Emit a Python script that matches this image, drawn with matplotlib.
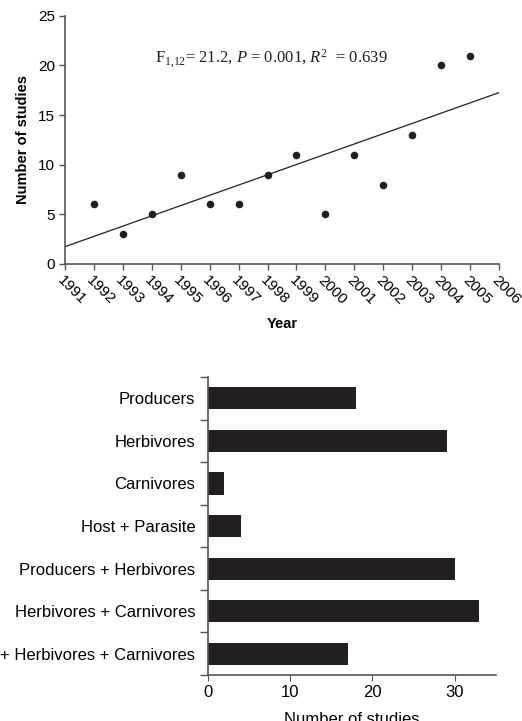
import numpy as np
import matplotlib
matplotlib.use("Agg")
import matplotlib.pyplot as plt

plt.rcParams['font.family'] = ['Liberation Sans', 'DejaVu Sans']
plt.rcParams['mathtext.fontset'] = 'custom'
plt.rcParams['mathtext.rm'] = 'Liberation Serif'
plt.rcParams['mathtext.it'] = 'Liberation Serif:italic'

# ---- data ----
years = [1992, 1993, 1994, 1995, 1996, 1997, 1998, 1999, 2000, 2001, 2002, 2003, 2004, 2005]
studies = [6, 3, 5, 9, 6, 6, 9, 11, 5, 11, 8, 13, 20, 21]
year_ticks = list(range(1991, 2007))
y_ticks = [0, 5, 10, 15, 20, 25]

categories = ["Producers", "Herbivores", "Carnivores", "Host + Parasite",
              "Producers + Herbivores", "Herbivores + Carnivores",
              "Producers + Herbivores + Carnivores"]
cat_counts = [18, 29, 2, 4, 30, 33, 17]
bar_ticks = [0, 10, 20, 30]

ink = '#231f20'
spine_c = '#555555'

fig = plt.figure(figsize=(5.22, 7.21), dpi=100)

# ---- top scatter ----
ax1 = fig.add_axes([0.1245, 0.634, 0.8315, 0.344])
ax1.scatter(years, studies, s=30, color=ink, zorder=3, linewidths=0)
slope, inter = np.polyfit(years, studies, 1)
xl = np.array([1991, 2006])
ax1.plot(xl, slope * xl + inter, color=ink, lw=0.9)
ax1.set_xlim(1991, 2006)
ax1.set_ylim(0, 25)
ax1.set_xticks(year_ticks)
ax1.set_xticklabels([str(y) for y in year_ticks], rotation=-45, ha='left', va='top',
                    rotation_mode='anchor', fontsize=11)
ax1.set_yticks(y_ticks)
ax1.tick_params(axis='y', labelsize=11)
ax1.tick_params(direction='out', length=4, width=1, color=spine_c, pad=3)
for s in ['top', 'right']:
    ax1.spines[s].set_visible(False)
for s in ['left', 'bottom']:
    ax1.spines[s].set_color(spine_c)
    ax1.spines[s].set_linewidth(1.2)
ax1.set_xlabel('Year', fontsize=10.5, fontweight='bold', labelpad=7)
ax1.set_ylabel('Number of studies', fontsize=10.5, fontweight='bold', labelpad=6)
ax1.text(1994.1, 20.7, r'F$_{1{,}12}$= 21.2, $P$ = 0.001, $R^2$  = 0.639',
         fontsize=12, color=ink, va='center', ha='left', family='Liberation Serif')

# ---- bottom bars ----
ax2 = fig.add_axes([0.398, 0.0638, 0.552, 0.4132])
pos = np.arange(len(categories))
ax2.barh(pos, cat_counts, height=0.52, color=ink)
ax2.set_ylim(len(categories) - 0.5, -0.5)
ax2.set_xlim(0, 35)
ax2.set_xticks(bar_ticks)
ax2.tick_params(axis='x', labelsize=12, direction='out', length=4, color=spine_c)
ax2.set_yticks(pos)
ax2.set_yticklabels(categories, fontsize=12)
ax2.tick_params(axis='y', length=0, pad=9)
ax2.set_yticks(np.arange(len(categories) + 1) - 0.5, minor=True)
ax2.tick_params(axis='y', which='minor', direction='out', length=6, width=1, color=spine_c)
for s in ['top', 'right']:
    ax2.spines[s].set_visible(False)
for s in ['left', 'bottom']:
    ax2.spines[s].set_color(spine_c)
    ax2.spines[s].set_linewidth(1.2)
ax2.set_xlabel('Number of studies', fontsize=12, labelpad=8)

fig.savefig('out.png', dpi=100)
